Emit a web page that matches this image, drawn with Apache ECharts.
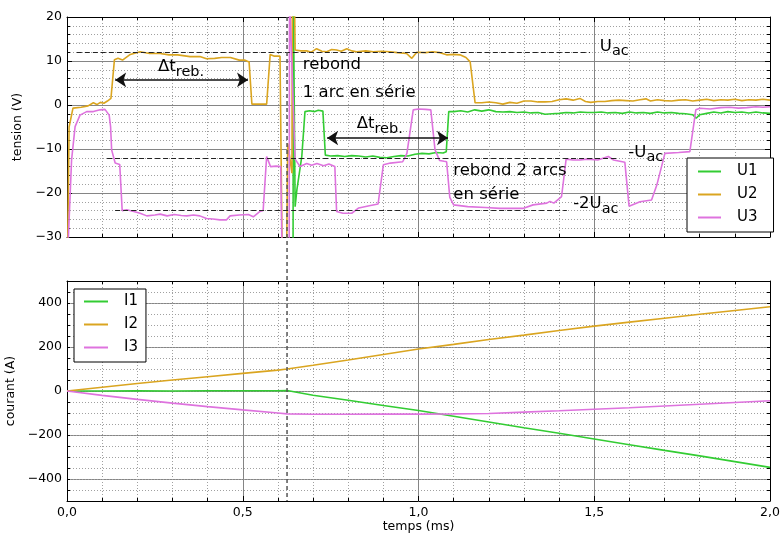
<!DOCTYPE html>
<html><head><meta charset="utf-8">
<script src="https://cdn.jsdelivr.net/npm/echarts@6/dist/echarts.min.js"></script>
<style>html,body{margin:0;padding:0;background:#fff}#c{width:782px;height:535px}</style>
</head><body><div id="c"></div>
<script>
// ---------- DATA ----------
// voltages [t (ms), V]
const U1 = [[0,-45],[0.643,-45],[0.644,25],[0.646,25],[0.649,-23.1],[0.654,-19.3],[0.661,-15.5],[0.668,-11.7],[0.677,-1.5],[0.69,-1.3],[0.705,-1.5],[0.715,-1.2],[0.728,-1.4],[0.735,-11.4],[0.75,-11.6],[0.77,-11.5],[0.79,-11.7],[0.81,-11.5],[0.83,-11.6],[0.85,-11.8],[0.87,-11.6],[0.89,-11.9],[0.91,-12.0],[0.93,-11.7],[0.95,-11.5],[0.97,-11.6],[0.99,-11.2],[1.01,-11.0],[1.03,-11.1],[1.05,-10.8],[1.07,-10.9],[1.079,-10.6],[1.086,-1.5],[1.1,-1.5],[1.12,-1.3],[1.14,-1.6],[1.16,-1.1],[1.18,-1.4],[1.2,-1.1],[1.22,-1.5],[1.24,-1.6],[1.26,-1.5],[1.28,-1.7],[1.3,-1.6],[1.32,-1.8],[1.34,-1.7],[1.36,-2.1],[1.38,-2.0],[1.4,-1.9],[1.42,-1.7],[1.44,-1.8],[1.46,-1.6],[1.48,-1.7],[1.5,-1.7],[1.52,-1.6],[1.54,-1.8],[1.56,-1.7],[1.58,-1.9],[1.6,-1.6],[1.62,-1.8],[1.64,-1.7],[1.66,-1.9],[1.68,-1.6],[1.7,-1.8],[1.72,-1.7],[1.74,-1.9],[1.76,-2.0],[1.78,-2.2],[1.79,-3.0],[1.8,-2.2],[1.82,-1.9],[1.84,-1.6],[1.86,-1.8],[1.88,-1.5],[1.9,-1.7],[1.92,-1.6],[1.94,-1.8],[1.96,-1.6],[1.98,-1.8],[2.0,-1.9]];
const U2 = [[0,-45],[0.006,-5],[0.017,-0.7],[0.04,-0.5],[0.06,-0.2],[0.075,0.5],[0.085,0.1],[0.095,0.6],[0.105,0.4],[0.115,0.9],[0.125,1.5],[0.135,10.3],[0.145,10.6],[0.158,10.2],[0.18,11.5],[0.208,12.1],[0.235,11.7],[0.265,11.7],[0.29,11.4],[0.315,11.4],[0.35,11.0],[0.378,11.0],[0.397,10.5],[0.42,10.6],[0.44,10.8],[0.465,10.8],[0.49,10.2],[0.505,10.2],[0.518,9.8],[0.526,0.2],[0.545,0.2],[0.568,0.2],[0.578,11.5],[0.59,11.1],[0.606,11.1],[0.613,-40],[0.624,-40],[0.628,-8.7],[0.64,-15.5],[0.641,25],[0.647,25],[0.649,12.5],[0.665,12.3],[0.682,12.3],[0.695,12.0],[0.71,12.8],[0.725,12.2],[0.739,12.1],[0.753,12.6],[0.767,12.5],[0.78,12.2],[0.796,12.8],[0.81,12.3],[0.824,12.1],[0.85,12.3],[0.871,12.1],[0.895,12.2],[0.919,12.1],[0.94,11.9],[0.966,11.7],[0.981,10.6],[0.995,12.0],[1.02,11.9],[1.04,12.1],[1.061,11.9],[1.08,11.4],[1.1,11.5],[1.118,11.4],[1.135,10.8],[1.147,9.8],[1.161,0.5],[1.18,0.5],[1.2,0.7],[1.22,0.5],[1.24,0.2],[1.26,0.6],[1.28,0.4],[1.3,0.9],[1.32,0.9],[1.34,0.7],[1.36,0.7],[1.38,0.8],[1.4,1.2],[1.42,1.4],[1.44,1.1],[1.459,1.5],[1.475,0.8],[1.49,0.6],[1.51,0.8],[1.53,0.8],[1.55,1.0],[1.57,1.1],[1.59,1.0],[1.61,0.9],[1.63,1.2],[1.647,1.4],[1.66,0.9],[1.68,1.2],[1.7,1.0],[1.72,0.9],[1.74,1.1],[1.76,1.2],[1.78,0.9],[1.8,1.1],[1.82,1.3],[1.84,1.0],[1.86,1.2],[1.88,1.1],[1.9,1.3],[1.92,1.0],[1.94,1.2],[1.96,1.1],[1.98,1.3],[2.0,1.1]];
const U3 = [[0,-45],[0.004,-30],[0.013,-12.5],[0.023,-4.9],[0.037,-2.3],[0.056,-1.5],[0.075,-1.5],[0.094,-1.1],[0.108,-1.0],[0.113,-1.1],[0.12,-2.3],[0.124,-4.9],[0.127,-10.2],[0.137,-13.2],[0.15,-13.5],[0.153,-13.6],[0.157,-24.0],[0.17,-23.8],[0.19,-24.2],[0.208,-24.6],[0.227,-25.2],[0.25,-25.0],[0.265,-24.8],[0.285,-25.2],[0.305,-24.9],[0.325,-25.1],[0.341,-25.2],[0.36,-25.0],[0.378,-25.2],[0.397,-25.8],[0.415,-25.9],[0.435,-26.1],[0.454,-26.1],[0.464,-25.2],[0.49,-25.0],[0.516,-24.9],[0.53,-25.4],[0.549,-24.2],[0.558,-24.0],[0.568,-11.7],[0.579,-14.0],[0.595,-13.9],[0.608,-14.0],[0.613,-40],[0.632,-40],[0.633,25],[0.637,25],[0.649,-12.3],[0.663,-14.0],[0.682,-13.3],[0.696,-13.7],[0.711,-13.3],[0.73,-13.8],[0.745,-13.4],[0.762,-14.0],[0.767,-24.2],[0.785,-24.6],[0.81,-24.6],[0.83,-23.4],[0.86,-22.9],[0.885,-22.5],[0.9,-13.6],[0.92,-13.2],[0.955,-12.9],[0.967,-11.0],[0.985,-1.1],[1.0,-0.9],[1.02,-1.0],[1.035,-1.1],[1.047,-10.2],[1.06,-12.6],[1.073,-12.8],[1.08,-12.9],[1.089,-21.0],[1.1,-22.7],[1.14,-23.1],[1.19,-23.3],[1.232,-23.5],[1.297,-23.5],[1.326,-22.7],[1.365,-22.3],[1.374,-21.9],[1.385,-22.3],[1.407,-20.8],[1.42,-12.3],[1.44,-12.5],[1.459,-12.5],[1.48,-12.3],[1.51,-12.5],[1.54,-11.7],[1.555,-12.5],[1.587,-13.0],[1.599,-23.0],[1.63,-22.0],[1.663,-21.6],[1.678,-18.2],[1.701,-11.0],[1.74,-10.8],[1.772,-10.6],[1.789,-1.1],[1.801,-0.75],[1.83,-0.9],[1.86,-0.6],[1.886,-0.5],[1.91,-0.7],[1.934,-0.6],[1.96,-0.4],[1.98,-0.5],[2.0,-0.4]];
// currents
const currentTimes = [0,0.1,0.2,0.3,0.4,0.5,0.6,0.626,0.7,0.8,0.9,1.0,1.1,1.2,1.3,1.4,1.5,1.6,1.7,1.8,1.9,2.0];
const I1 = [0,0,1,0,1,1,1,2,-19,-42,-66,-89,-115,-141,-167,-192,-218,-244,-270,-295,-321,-347];
const I2 = [0,17,34,50,65,80,95,100,117,141,166,191,212,234,254,275,295,313,331,349,366,383];
const I3 = [0,-20,-38,-55,-71,-86,-100,-104,-106,-106,-105,-105,-104,-102,-96,-90,-83,-76,-68,-60,-52,-44];
// reference levels / annotations (data coordinates)
const arcTime = 0.626;
const refLevels = [{v:12, t0:0.028, t1:1.488},{v:-12, t0:0.114, t1:1.565},{v:-24, t0:0.137, t1:1.422}];
const arrows = [{v:5.7, t0:0.137, t1:0.515},{v:-7.5, t0:0.740, t1:1.084}];
const texts = [
  {t:1.516, v:13.3, main:'U', sub:'ac'},
  {t:0.259, v:8.6, main:'Δt', sub:'reb.'},
  {t:0.671, v:9.2, main:'rebond', sub:''},
  {t:0.671, v:2.7, main:'1 arc en série', sub:''},
  {t:0.824, v:-4.3, main:'Δt', sub:'reb.'},
  {t:1.597, v:-10.8, main:'-U', sub:'ac'},
  {t:1.099, v:-14.9, main:'rebond 2 arcs', sub:''},
  {t:1.099, v:-20.5, main:'en série', sub:''},
  {t:1.440, v:-22.5, main:'-2U', sub:'ac'}
];
const ticksX = {min:0, max:2, interval:0.5};

// ---------- STYLE ----------
const FONT = 'DejaVu Sans';
const C_GREEN = '#33cc33', C_ORANGE = '#daa520', C_VIOLET = '#de73de';
const MAJOR = '#858585', MINOR = '#a0a0a0';
const fmtNum = v => (v < 0 ? '\u2212' + (-v) : String(v));

function xAx(grid, pos, labels) {
  const main = pos === 'bottom';
  return {
    type:'value', gridIndex:grid, position:pos, min:ticksX.min, max:ticksX.max, interval:ticksX.interval,
    axisLine:{show:true, onZero:false, lineStyle:{color:'#000', width:1}},
    axisTick:{show:true, inside:true, length:5, lineStyle:{color:'#000'}},
    minorTick:{show:true, splitNumber:5, length:3, lineStyle:{color:'#000'}},
    axisLabel:{show:labels, margin:5, fontSize:12.5, fontFamily:FONT, color:'#000',
      formatter: v => v.toFixed(1).replace('.', ',')},
    splitLine:{show:main, showMinLine:false, showMaxLine:false, lineStyle:{color:MAJOR, width:1}},
    minorSplitLine:{show:main, lineStyle:{color:MINOR, width:1, type:[1,2]}},
    name: labels ? 'temps (ms)' : '', nameLocation:'middle', nameGap:19,
    nameTextStyle:{fontSize:12.5, fontFamily:FONT, color:'#000'}
  };
}
const commonSeries = {type:'line', showSymbol:false, symbol:'none', lineStyle:{width:1.6}, animation:false, clip:true};
const legendCommon = {orient:'vertical', itemHeight:14, itemGap:8, borderColor:'#000', borderWidth:1, borderRadius:0,
  backgroundColor:'#fff', selectedMode:false, itemStyle:{opacity:0, borderWidth:0},
  lineStyle:{width:2}, textStyle:{fontSize:15, fontFamily:FONT, color:'#000', padding:[0,0,0,11]}};

const chart = echarts.init(document.getElementById('c'), null, {renderer:'canvas'});
const option = {
  animation:false,
  backgroundColor:'#fff',
  grid:[
    {left:67, top:17, width:703, height:220, containLabel:false, outerBoundsMode:'none'},
    {left:67, top:281, width:703, height:220, containLabel:false, outerBoundsMode:'none'}
  ],
  xAxis:[xAx(0,'bottom',false), xAx(0,'top',false), xAx(1,'bottom',true), xAx(1,'top',false)],
  yAxis:[
    {type:'value', gridIndex:0, position:'left', min:-30, max:20, interval:10,
     axisLine:{show:true, onZero:false, lineStyle:{color:'#000'}},
     axisTick:{show:true, inside:true, length:5, lineStyle:{color:'#000'}},
     minorTick:{show:true, splitNumber:5, length:3, lineStyle:{color:'#000'}},
     axisLabel:{margin:5, fontSize:12.5, fontFamily:FONT, color:'#000', formatter:fmtNum},
     splitLine:{show:true, showMinLine:false, showMaxLine:false, lineStyle:{color:MAJOR, width:1}},
     minorSplitLine:{show:true, lineStyle:{color:MINOR, width:1, type:[1,2]}},
     name:'tension (V)', nameLocation:'middle', nameGap:26, nameRotate:90,
     nameTextStyle:{fontSize:12.5, fontFamily:FONT, color:'#000'}},
    {type:'value', gridIndex:0, position:'right', min:-30, max:20, interval:10,
     axisLine:{show:true, onZero:false, lineStyle:{color:'#000'}},
     axisTick:{show:true, inside:true, length:5, lineStyle:{color:'#000'}},
     minorTick:{show:true, splitNumber:5, length:3, lineStyle:{color:'#000'}},
     axisLabel:{show:false}, splitLine:{show:false}},
    {type:'value', gridIndex:1, position:'left', min:-500, max:500, interval:100,
     axisLine:{show:true, onZero:false, lineStyle:{color:'#000'}},
     axisTick:{show:false},
     axisLabel:{margin:5, fontSize:12.5, fontFamily:FONT, color:'#000',
       formatter: v => (v % 200 === 0 ? fmtNum(v) : '')},
     splitLine:{show:true, showMinLine:true, showMaxLine:true, lineStyle:{color:['rgba(0,0,0,0)', MAJOR], width:1}},
     name:'courant (A)', nameLocation:'middle', nameGap:33, nameRotate:90,
     nameTextStyle:{fontSize:12.5, fontFamily:FONT, color:'#000'}},
    {type:'value', gridIndex:1, position:'left', min:-500, max:500, interval:50,
     axisLine:{show:false}, axisLabel:{show:false},
     axisTick:{show:true, inside:true, length:3, lineStyle:{color:'#000'}},
     splitLine:{show:true, showMinLine:false, showMaxLine:false, lineStyle:{color:MINOR, width:1, type:[1,2]}}},
    {type:'value', gridIndex:1, position:'right', min:-500, max:500, interval:50,
     axisLine:{show:true, onZero:false, lineStyle:{color:'#000'}}, axisLabel:{show:false},
     axisTick:{show:true, inside:true, length:3, lineStyle:{color:'#000'}},
     splitLine:{show:false}}
  ],
  legend:[
    Object.assign({}, legendCommon, {left:687, top:158, data:['U1','U2','U3'], itemWidth:23, padding:[6,16,7,10]}),
    Object.assign({}, legendCommon, {left:74, top:289, data:['I1','I2','I3'], itemWidth:24, padding:[5,8,7,9]})
  ],
  series:[
    Object.assign({}, commonSeries, {name:'U1', xAxisIndex:0, yAxisIndex:0, data:U1, color:C_GREEN,
      markLine:{silent:true, animation:false, symbol:['none','none'], label:{show:false},
        lineStyle:{color:'#222', width:1, type:[5,3]},
        data: refLevels.map(r => [{coord:[r.t0, r.v]}, {coord:[r.t1, r.v]}])
          .concat(arrows.map(a => [{coord:[a.t0, a.v], symbol:'arrow', symbolSize:11, lineStyle:{type:'solid', width:1.5, color:'#111'}},
                                    {coord:[a.t1, a.v], symbol:'arrow', symbolSize:11, lineStyle:{type:'solid', width:1.5, color:'#111'}}]))}}),
    Object.assign({}, commonSeries, {name:'U2', xAxisIndex:0, yAxisIndex:0, data:U2, color:C_ORANGE}),
    Object.assign({}, commonSeries, {name:'U3', xAxisIndex:0, yAxisIndex:0, data:U3, color:C_VIOLET}),
    Object.assign({}, commonSeries, {name:'I1', xAxisIndex:2, yAxisIndex:2, data:currentTimes.map((t,i)=>[t,I1[i]]), color:C_GREEN}),
    Object.assign({}, commonSeries, {name:'I2', xAxisIndex:2, yAxisIndex:2, data:currentTimes.map((t,i)=>[t,I2[i]]), color:C_ORANGE}),
    Object.assign({}, commonSeries, {name:'I3', xAxisIndex:2, yAxisIndex:2, data:currentTimes.map((t,i)=>[t,I3[i]]), color:C_VIOLET})
  ]
};
chart.setOption(option);

// annotations placed through the axes
const gfx = [];
const pTop = chart.convertToPixel({xAxisIndex:0, yAxisIndex:0}, [arcTime, 20]);
const pBot = chart.convertToPixel({xAxisIndex:2, yAxisIndex:2}, [arcTime, -500]);
gfx.push({type:'line', z:100, silent:true, shape:{x1:pTop[0], y1:pTop[1], x2:pBot[0], y2:pBot[1]},
  style:{stroke:'#555', lineWidth:1.5, lineDash:[4,3]}});
texts.forEach(a => {
  const p = chart.convertToPixel({xAxisIndex:0, yAxisIndex:0}, [a.t, a.v]);
  const txt = a.sub ? '{m|' + a.main + '}{s|' + a.sub + '}' : '{m|' + a.main + '}';
  gfx.push({type:'text', z:101, silent:true, x:p[0], y:p[1],
    style:{text:txt, align:'left', verticalAlign:'middle', fill:'#000', fontFamily:FONT,
      rich:{m:{fontSize:16.5, fontFamily:FONT, fill:'#000'}, s:{fontSize:14.5, fontFamily:FONT, fill:'#000', padding:[10,0,0,0]}}}});
});
chart.setOption({graphic:gfx});
</script></body></html>
